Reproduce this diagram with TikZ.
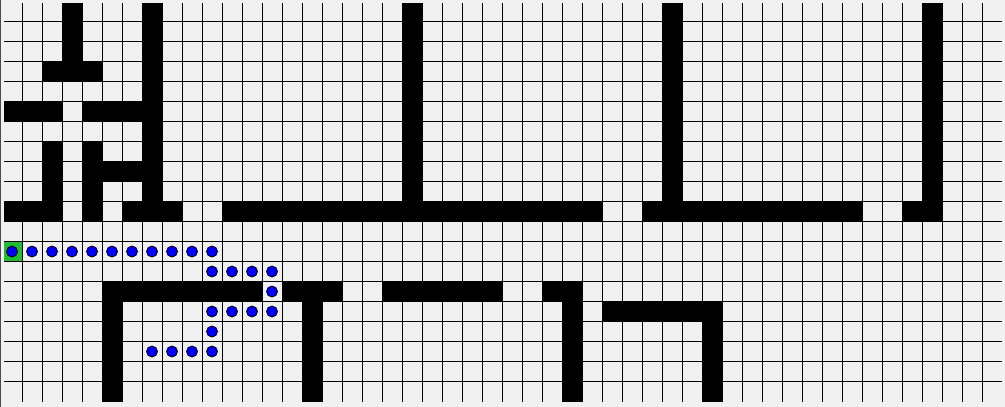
\documentclass[tikz,border=0pt]{standalone}
\definecolor{bg}{HTML}{F0F0F0}
\definecolor{startc}{HTML}{22BB33}
\definecolor{dotc}{HTML}{0000FF}
\tikzset{
  dotnode/.style={circle,fill=dotc,draw=black,line width=0.8pt,minimum size=11pt,inner sep=0pt},
  gridline/.style={black,line width=1pt},
}
\newcommand{\blk}[4]{\fill[black] ({2+20*#1},{1.5+20*#2}) rectangle ({22+20*#3},{21.5+20*#4});}
\begin{document}
\begin{tikzpicture}[x=1pt,y=-1pt]
\fill[bg] (0,0) rectangle (1005,407);
\useasboundingbox (0,0) rectangle (1005,407);
\fill[black!70] (0,0) rectangle (1,407);
% start cell
\fill[startc] (4,241.5) rectangle (22,261.5);
% grid
\foreach \i in {1,...,49} \draw[gridline] ({2+20*\i},3) -- ({2+20*\i},401.5);
\foreach \j in {1,...,19} \draw[gridline] (4,{1.5+20*\j}) -- (1002,{1.5+20*\j});
% walls
\begin{scope}
\clip (4,3) rectangle (1002,401.5);
\blk{3}{0}{3}{3}
\blk{2}{3}{4}{3}
\blk{7}{0}{7}{10}
\blk{0}{5}{2}{5}
\blk{4}{5}{6}{5}
\blk{2}{7}{2}{10}
\blk{4}{7}{4}{10}
\blk{5}{8}{6}{8}
\blk{0}{10}{1}{10}
\blk{6}{10}{8}{10}
\blk{11}{10}{29}{10}
\blk{32}{10}{42}{10}
\blk{45}{10}{46}{10}
\blk{20}{0}{20}{10}
\blk{33}{0}{33}{10}
\blk{46}{0}{46}{10}
\blk{5}{14}{12}{14}
\blk{14}{14}{16}{14}
\blk{19}{14}{24}{14}
\blk{27}{14}{28}{14}
\blk{5}{14}{5}{19}
\blk{15}{14}{15}{19}
\blk{28}{14}{28}{19}
\blk{30}{15}{35}{15}
\blk{35}{15}{35}{19}
\end{scope}
% path dots
\foreach \c/\r [count=\k] in {0/12,1/12,2/12,3/12,4/12,5/12,6/12,7/12,8/12,9/12,10/12,
  10/13,11/13,12/13,13/13,13/14,13/15,12/15,11/15,10/15,10/16,10/17,9/17,8/17,7/17}
  \node[dotnode] (p\k) at ({12+20*\c},{11.5+20*\r}) {};
\end{tikzpicture}
\end{document}
